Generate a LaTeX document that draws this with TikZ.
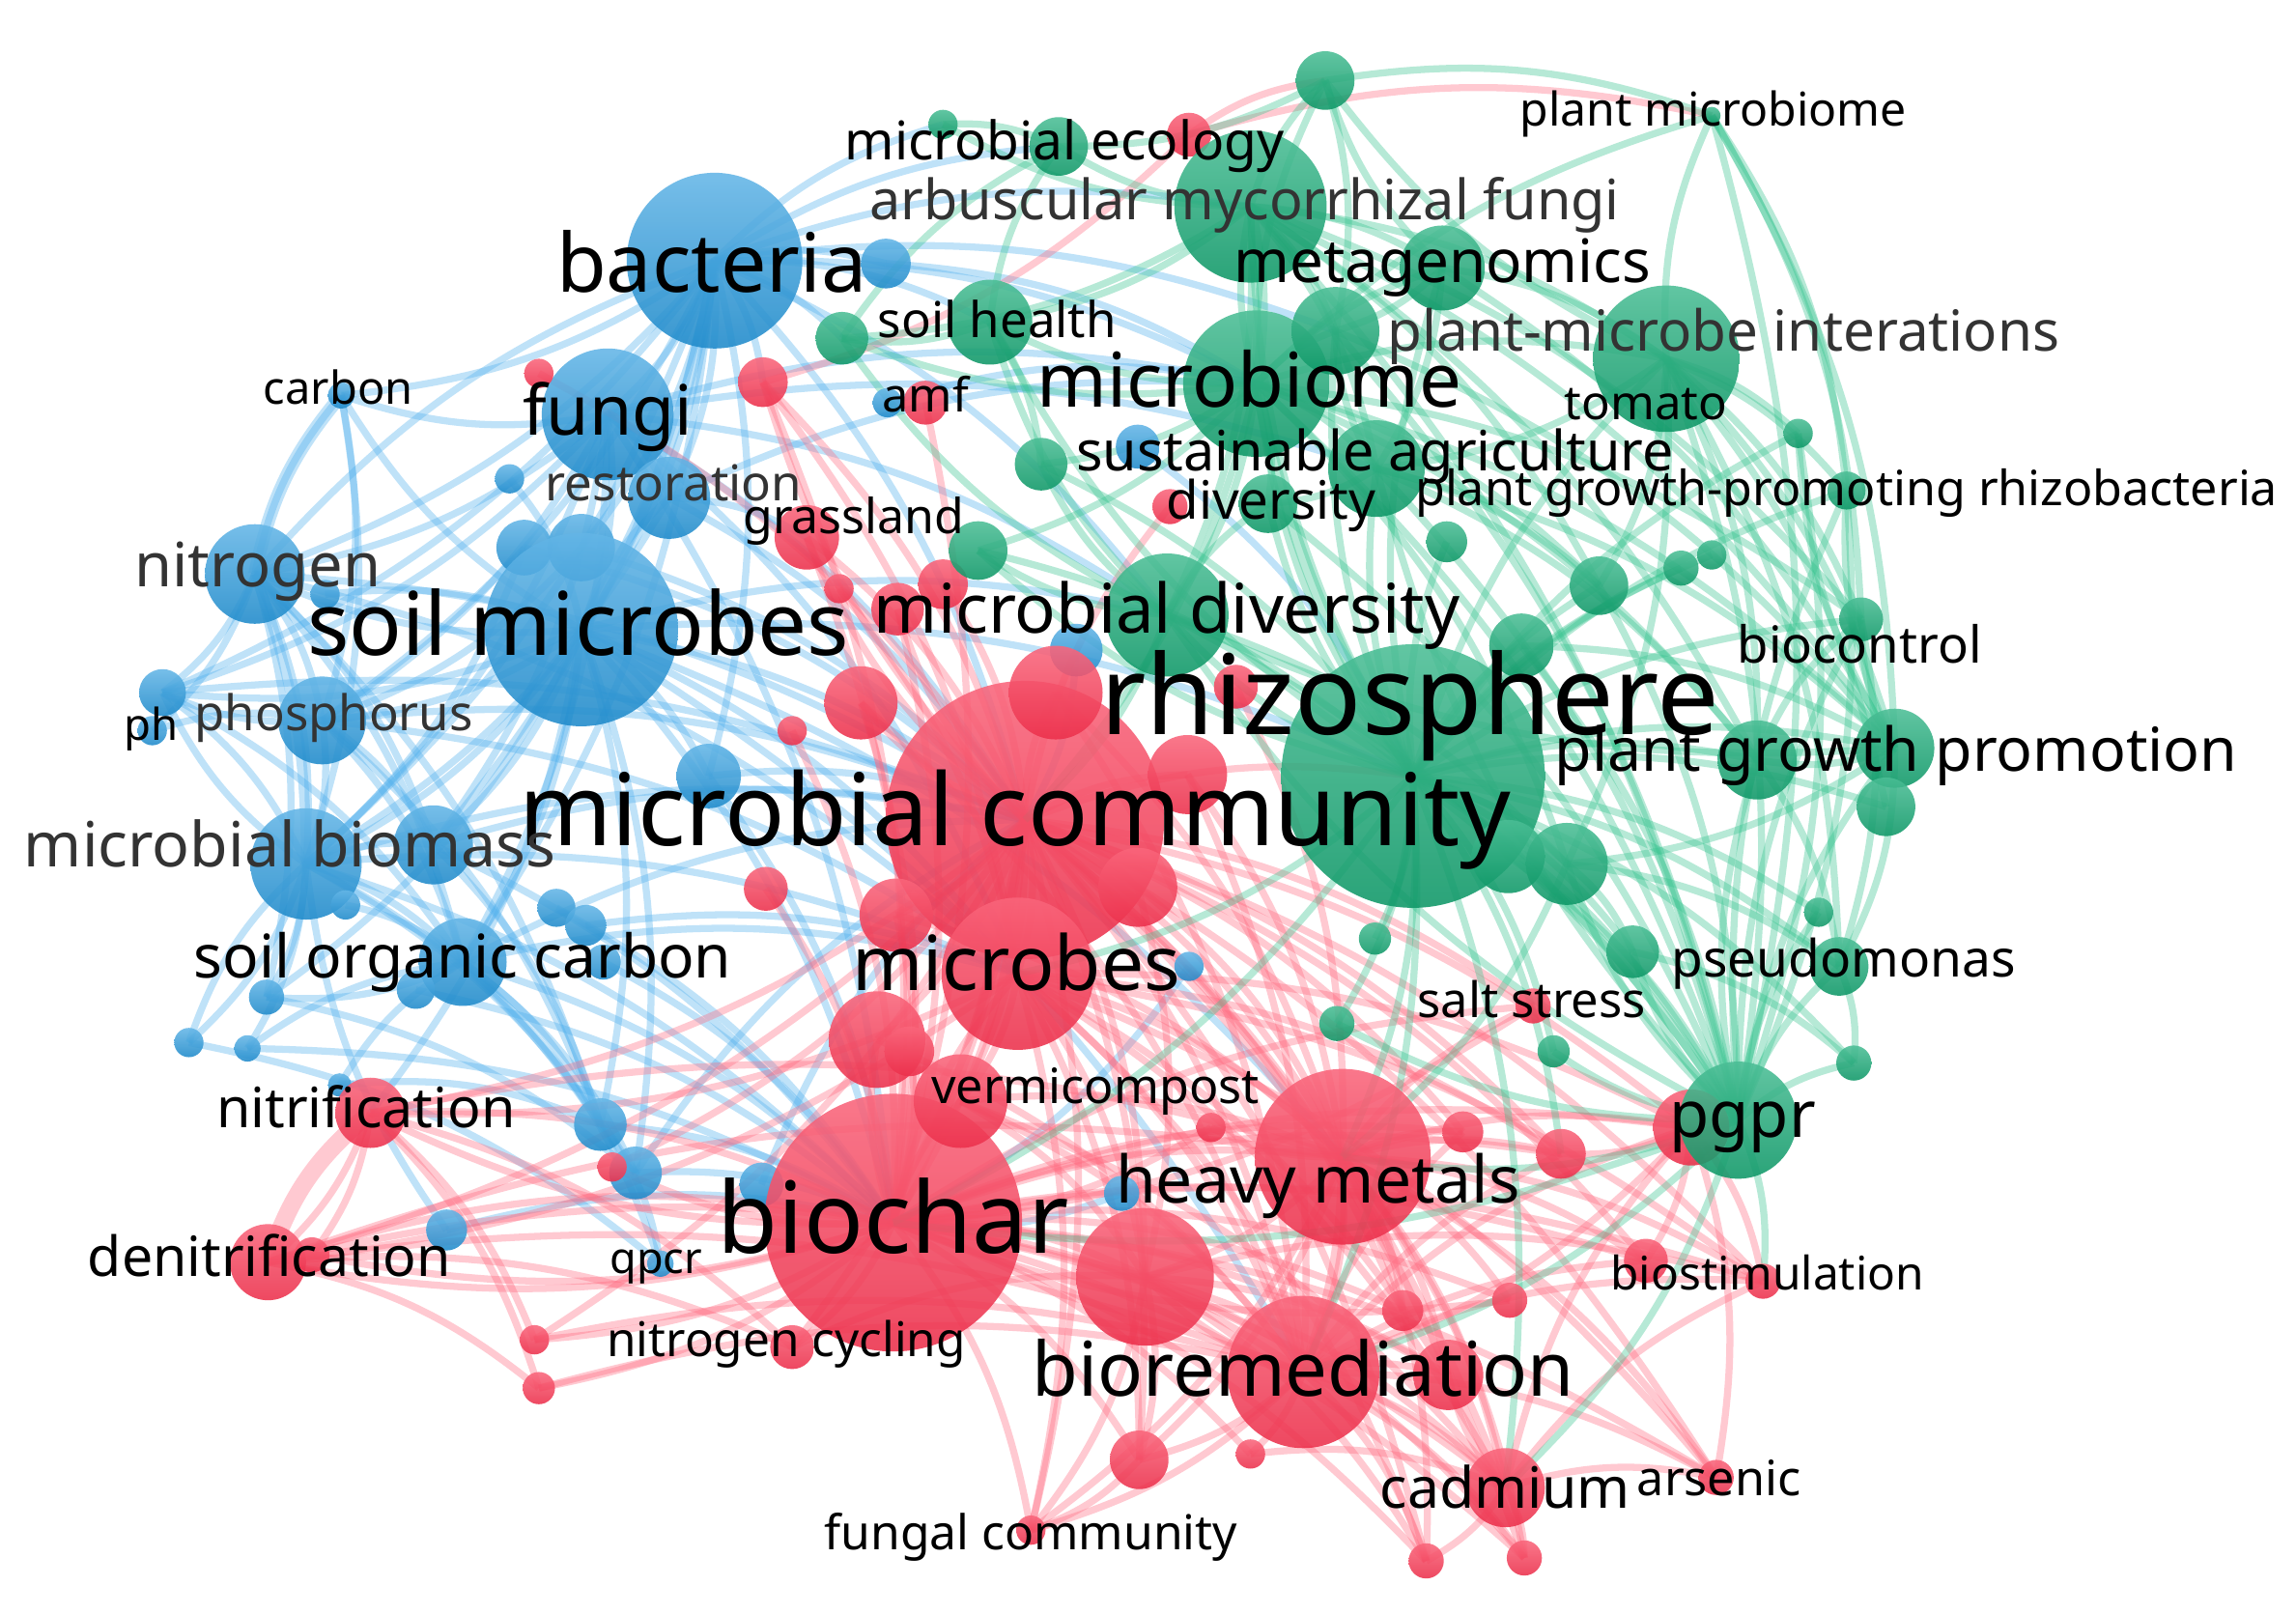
\documentclass[tikz,border=0pt]{standalone}
\usepackage{fontspec}
\setmainfont{Noto Sans}
\usepackage{graphicx}
\pgfdeclarelayer{bg}
\pgfsetlayers{bg,main}
\definecolor{cB}{HTML}{2196DC}
\definecolor{cR}{HTML}{F8324F}
\definecolor{cG}{HTML}{0FA872}
\definecolor{eB}{HTML}{4FB0EE}
\definecolor{eR}{HTML}{FF6A80}
\definecolor{eG}{HTML}{35C48F}
\definecolor{txG}{HTML}{333333}
\newcommand\kw[2]{\resizebox{#1pt}{!}{\vphantom{bdpg}#2}}
\tikzset{
 nd/.style={circle, inner sep=0pt, outer sep=0pt, draw=none, fill opacity=0.88},
 nb/.style={nd, top color=cB!70!white, bottom color=cB!92!black},
 nr/.style={nd, top color=cR!75!white, bottom color=cR!95!black},
 ng/.style={nd, top color=cG!75!white, bottom color=cG!90!black},
 eb/.style={draw=eB, line width=4.8pt, draw opacity=0.36},
 er/.style={draw=eR, line width=4.8pt, draw opacity=0.36},
 eg/.style={draw=eG, line width=4.8pt, draw opacity=0.36},
 lbl/.style={inner sep=0pt, text=black},
 lblg/.style={inner sep=0pt, text=txG}
}
\begin{document}
\begin{tikzpicture}[x=1pt,y=-1pt]
\useasboundingbox (0,0) rectangle (1568,1102);
% ---------- nodes ----------
\foreach \n/\x/\y/\r in {b1/488/178/60, b2/605/180/17, b3/415/283/45, b4/233/270/9, b5/348/327/10,
 b6/457/340/28, b7/358/374/19, b8/397/374/23, b9/397/430/66, b10/174/392/34, b11/222/406/10,
 b12/111/473/16, b13/104/499/10, b14/220/492/30, b15/209/590/38, b16/296/577/27, b17/236/618/10,
 b18/316/657/30, b19/284/676/13, b20/380/620/13, b21/400/632/14, b22/182/681/12, b23/129/712/10,
 b24/169/716/9, b25/410/768/18, b26/434/801/18, b27/305/840/14, b28/451/863/9, b29/484/530/22,
 b30/606/275/10, b31/777/305/15, b32/735/444/18, b33/812/660/10, b34/766/815/12, b35/232/741/8,
 b36/412/657/12, b37/520/809/15}
 \node[nb, minimum size=2*\r] (\n) at (\x,\y) {};
\foreach \n/\x/\y/\r in {r1/700/560/95, r2/610/835/88, r3/695/665/52, r4/917/790/60, r5/890/937/52,
 r6/782/872/47, r7/1028/1016/27, r8/1155/770/26, r9/253/760/24, r10/183/862/26, r11/213/857/12,
 r12/365/915/10, r13/368/948/11, r14/541/920/15, r15/551/367/22, r16/521/261/17, r17/368/255/10,
 r18/632/275/15, r19/812/92/15, r20/799/346/12, r21/613/416/18, r22/573/402/10, r23/644/399/17,
 r24/588/480/25, r25/541/499/10, r26/523/607/15, r27/721/473/32, r28/811/529/27, r29/777/606/27,
 r30/612/625/25, r31/599/710/33, r32/621/718/17, r33/656/752/32, r34/827/770/10, r35/999/773/14,
 r36/1066/788/17, r37/1047/687/12, r38/958/895/14, r39/1031/888/12, r40/989/939/24, r41/1204/875/12,
 r42/1172/1009/12, r43/778/997/20, r44/854/993/10, r45/974/1066/12, r46/1041/1064/12, r47/704/1045/10,
 r48/418/797/10, r49/1124/861/15, r50/844/469/15}
 \node[nr, minimum size=2*\r] (\n) at (\x,\y) {};
\foreach \n/\x/\y/\r in {g1/965/530/90, g2/858/262/50, g3/854/141/52, g4/985/183/29, g5/905/55/20,
 g6/575/231/18, g7/676/220/29, g8/711/317/18, g9/668/376/20, g10/797/420/42, g11/1138/245/50,
 g12/912/226/30, g13/940/320/33, g14/866/344/20, g15/988/370/14, g16/1092/400/20, g17/1148/388/12,
 g18/1169/379/10, g19/1039/441/22, g20/1228/296/10, g21/1261/335/13, g22/1271/423/15, g23/1294/511/27,
 g24/1200/519/27, g25/1070/590/28, g26/1115/650/18, g27/1256/660/20, g28/1242/623/10, g29/1187/765/40,
 g30/1266/726/12, g31/1061/718/11, g32/913/699/12, g33/939/641/11, g34/1169/79/6, g35/644/85/10,
 g36/723/100/20, g37/1288/551/20, g38/1030/585/25}
 \node[ng, minimum size=2*\r] (\n) at (\x,\y) {};
% ---------- edges ----------
\begin{pgfonlayer}{bg}
\fill[white] (0,0) rectangle (1568,1102);
\foreach \a/\b in {b1/b3, b1/b9, b1/b10, b1/b14, b1/b15, b1/b6, b1/b4, b1/b2, b1/b16, b1/b18, b1/g7,
 b1/g6, b1/g3, b1/g2, b1/r1, b1/r16, b1/b8, b1/b29, b3/b9, b3/b10, b3/b14, b3/b15, b3/b4, b3/b6,
 b3/r1, b3/r3, b3/g2, b3/b16, b3/b12, b3/g10, b9/b10, b9/b14, b9/b15, b9/b16, b9/b18, b9/b12, b9/b4,
 b9/b25, b9/r1, b9/r2, b9/b6, b9/b29, b9/g10, b9/r3, b9/b22, b9/r9, b9/g1, b9/b26, b10/b14, b10/b15,
 b10/b4, b10/b12, b10/b13, b10/b22, b10/b16, b10/b18, b10/r1, b4/b15, b4/b14, b14/b15, b14/b12,
 b14/b18, b14/r1, b15/b18, b15/b16, b15/b12, b15/b23, b15/b24, b15/b22, b15/b25, b15/r2, b15/r1,
 b18/b26, b18/b28, b18/r2, b18/r1, b18/b22, b18/b25, b23/b28, b24/r2, b25/r2, b25/b28, b27/r2,
 b27/b15, b26/r2, b26/r1, b6/r1, b6/g2, b7/r1, b8/r1, b29/r2, b12/r1, b13/b14, b2/g2, b30/g2,
 b31/g1, b32/r1, b33/r2, b34/r2, b35/b18, b36/r2, b37/r1, b20/r2, b21/r3, b19/r2, b17/b18, b11/b9, b5/b9,
 b1/g12, b1/g36, b3/g13, b9/r4, b15/r3, b10/b1, b12/b18, b14/b16, b16/r2, b7/b15, b8/b14, b6/b15,
 b1/g35, b1/b12, b3/b18, b3/r2, b10/r3, b10/b25, b14/r3, b14/b25, b15/b26, b16/r1, b16/b25,
 b18/r3, b9/r5, b1/g10, b12/b15, b23/b15, b24/b18, b22/b26, b35/b25, b6/r15, b29/r1}
 \draw[eb] (\a.center) to[bend left=14] (\b.center);
\draw[eb, line width=9pt] (b10.center) to[bend left=14] (b4.center);
\draw[eb, line width=8pt] (b1.center) to[bend left=10] (b9.center);
\draw[eb, line width=7pt] (b10.center) to[bend left=10] (b15.center);
\foreach \a/\b in {r1/r2, r1/r3, r1/r4, r1/r5, r1/r6, r1/r9, r1/r10, r1/r15, r1/r16, r1/r24, r1/r27,
 r1/r28, r1/r29, r1/r30, r1/r31, r1/r33, r1/r7, r1/r14, r1/r47, r1/r43, r1/r36, r1/r37, r1/g1, r1/r20,
 r1/r21, r1/r8, r1/r40, r1/r45, r2/r3, r2/r4, r2/r5, r2/r6, r2/r7, r2/r9, r2/r10, r2/r11, r2/r12,
 r2/r13, r2/r14, r2/r33, r2/r43, r2/r44, r2/r45, r2/r46, r2/r47, r2/r40, r2/r42, r2/r41, r2/r8, r2/r35,
 r2/r36, r2/r38, r2/r48, r2/r31, r2/r49, r3/r4, r3/r5, r3/r6, r3/r7, r3/r33, r3/r8, r3/r40, r3/r47,
 r4/r5, r4/r6, r4/r7, r4/r8, r4/r35, r4/r36, r4/r38, r4/r39, r4/r40, r4/r41, r4/r42, r4/r34, r4/r37,
 r4/r46, r4/r49, r4/r43, r4/r45, r5/r6, r5/r7, r5/r40, r5/r42, r5/r41, r5/r43, r5/r44, r5/r45, r5/r46,
 r5/r8, r5/r47, r6/r7, r6/r43, r6/r47, r7/r42, r7/r46, r7/r41, r7/r45, r7/r8, r9/r10, r9/r11, r9/r13,
 r9/r12, r9/r2, r10/r14, r10/r11, r10/r13, r10/r5, r8/r41, r8/r42, r8/r49, r19/g5, r19/r16, r19/g34,
 r15/r1, r16/r1, r23/r1, r21/r2, r24/r2, r28/r4, r29/r4, r27/r4, r30/r2, r26/r2, r32/r2, r33/r4,
 r17/r1, r18/r2, r22/r3, r25/r2, r50/r4, r34/r2, r39/r2, r37/r2, r1/r35, r1/r38, r3/r43, r3/r45,
 r6/r46, r6/r40, r9/r14, r10/r6, r13/r5, r15/r2, r16/r3, r27/r5, r28/r5, r29/r6, r31/r5, r33/r7,
 r1/r46, r1/r42, r1/r41, r1/r49, r2/r37, r2/r39, r3/r9, r3/r10, r3/r36, r3/r41, r3/r42, r4/r47,
 r5/r36, r5/r35, r5/r49, r6/r41, r6/r45, r7/r40, r10/r2, r12/r5, r14/r6, r16/r2, r24/r5, r30/r4,
 r33/r5, r33/r6, r43/r47, r44/r7, r9/r4, r10/r4, r8/r5, r8/r36, r1/r12, r1/r48}
 \draw[er] (\a.center) to[bend left=14] (\b.center);
\draw[er, line width=12pt] (r9.center) to[bend right=16] (r10.center);
\draw[er, line width=8pt] (r1.center) to[bend left=8] (r2.center);
\draw[er, line width=7pt] (r4.center) to[bend left=10] (r5.center);
\foreach \a/\b in {g1/g2, g1/g3, g1/g4, g1/g10, g1/g11, g1/g13, g1/g16, g1/g19, g1/g22, g1/g23, g1/g24,
 g1/g25, g1/g26, g1/g27, g1/g29, g1/g21, g1/g20, g1/g14, g1/g12, g1/g32, g1/g33, g1/g31, g1/g28,
 g1/g30, g1/g37, g1/g38, g1/r4, g1/r5, g1/g7, g1/g9, g1/g15, g1/g17, g1/g18, g2/g3, g2/g4, g2/g11,
 g2/g12, g2/g13, g2/g10, g2/g7, g2/g6, g2/g8, g2/g5, g2/g34, g2/g14, g2/g9, g2/r1, g2/g23, g2/g29,
 g2/g16, g3/g5, g3/g4, g3/g11, g3/g7, g3/g6, g3/g36, g3/g35, g3/g12, g3/g10, g3/g13, g3/g23, g3/g29,
 g4/g11, g4/g12, g4/g5, g4/g13, g11/g34, g11/g21, g11/g23, g11/g20, g11/g29, g11/g22, g11/g5,
 g11/g16, g11/g24, g11/g13, g5/g34, g5/g36, g5/g12, g29/g23, g29/g22, g29/g27, g29/g26, g29/g25,
 g29/g30, g29/g24, g29/g21, g29/r4, g29/r5, g29/r7, g29/r41, g29/r2, g29/g28, g29/g31, g29/g32,
 g29/g10, g29/g13, g23/g22, g23/g21, g23/g27, g23/g24, g23/g25, g23/g20, g23/g10, g34/g21, g34/g23,
 g34/g22, g10/g9, g10/g8, g10/g14, g10/g7, g10/r1, g10/g6, g7/g6, g7/g8, g7/g36, g6/g36, g35/g36,
 g13/g14, g13/g12, g13/g24, g13/g16, g25/g26, g25/g27, g24/g22, g27/g30, g26/g30, g19/g23,
 g34/g29, g2/g25, g3/g24, g11/g25, g13/g29, g10/g29, g12/g23, g4/g23, g1/r2, g1/r3, g1/r7, g1/r36,
 g2/g24, g2/g22, g3/g22, g3/g16, g11/g27, g11/g37, g12/g29, g13/g23, g16/g29, g19/g29, g22/g27,
 g20/g29, g21/g29, g38/g29, g25/r4, g24/g27, g10/g25, g14/g29, g9/g1, g8/g1}
 \draw[eg] (\a.center) to[bend left=14] (\b.center);
\draw[eg, line width=8pt] (g1.center) to[bend left=10] (g2.center);
\draw[eg, line width=7pt] (g1.center) to[bend left=10] (g29.center);
\draw[eg, line width=7pt] (g3.center) to[bend left=10] (g2.center);
\end{pgfonlayer}
% ---------- labels ----------
\foreach \n/\x/\y/\w/\t in {tMC/693/560/677/microbial community, tRh/963/482/423/rhizosphere,
 tBio/610/838/240/biochar, tSM/395/432/370/soil microbes, tBac/486/185/212/bacteria,
 tMbm/853/265/290/microbiome, tFun/415/285/116/fungi, tMic/694/663/224/microbes,
 tBr/890/940/370/bioremediation, tHM/900/810/276/heavy metals, tMD/797/420/400/microbial diversity,
 tPGP/1295/516/466/plant growth promotion, tSOC/316/657/367/soil organic carbon, tpH/103/498/37/ph,
 tC/231/268/102/carbon, tGr/583/356/151/grassland, tAmf/632/273/59/amf, tSH/681/222/163/soil health,
 tME/727/100/300/microbial ecology, tMG/985/182/285/metagenomics, tPM/1170/78/264/plant microbiome,
 tTom/1124/278/111/tomato, tSA/939/312/408/sustainable agriculture, tDiv/868/345/143/diversity,
 tPGPR/1261/337/589/plant growth-promoting rhizobacteria, tBC/1270/444/167/biocontrol,
 tPs/1259/658/235/pseudomonas, tSS/1046/686/156/salt stress, tPgpr/1190/765/100/pgpr,
 tVer/748/745/224/vermicompost, tNit/250/760/204/nitrification, tDen/184/862/248/denitrification,
 tQ/448/862/63/qpcr, tNC/537/918/245/nitrogen cycling, tBS/1207/873/214/biostimulation,
 tCd/1028/1020/171/cadmium, tAs/1174/1013/112/arsenic, tFC/704/1050/282/fungal community}
 \node[lbl] (\n) at (\x,\y) {\kw{\w}{\t}};
\foreach \n/\x/\y/\w/\t in {tMB/198/581/363/microbial biomass, tN/176/390/168/nitrogen,
 tP/228/490/190/phosphorus, tRes/460/333/175/restoration,
 tAMF/850/140/512/arbuscular mycorrhizal fungi, tPMI/1177/230/459/plant-microbe interations}
 \node[lblg] (\n) at (\x,\y) {\kw{\w}{\t}};
\end{tikzpicture}
\end{document}
